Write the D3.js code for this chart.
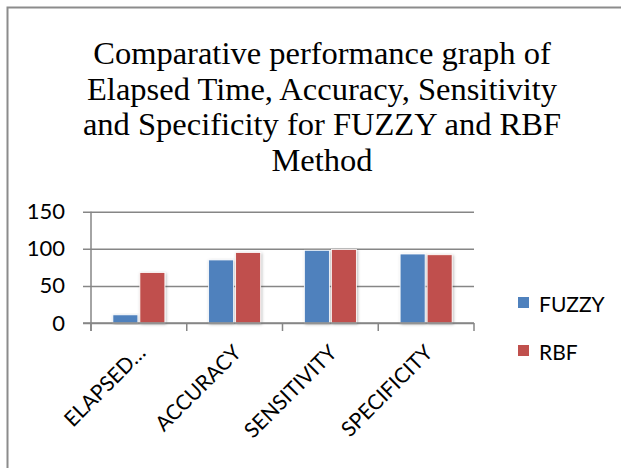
<!DOCTYPE html>
<html>
<head>
<meta charset="utf-8">
<script src="https://cdn.jsdelivr.net/npm/d3@7"></script>
<style>
  html, body { margin: 0; padding: 0; background: #fff; overflow: hidden; }
  svg { display: block; }
</style>
</head>
<body>
<div id="chart"></div>
<script>
const titleLines = [
  'Comparative performance graph of',
  'Elapsed Time, Accuracy, Sensitivity',
  'and Specificity for FUZZY and RBF',
  'Method'
];
const categories = ['ELAPSED…', 'ACCURACY', 'SENSITIVITY', 'SPECIFICITY'];
const seriesNames = ['FUZZY', 'RBF'];
const fuzzyValues = [11, 85, 98, 93];
const rbfValues = [68, 95, 99, 92];
const yTicks = [0, 50, 100, 150];
const colors = ['#4F81BD', '#C0504D'];

const width = 621, height = 468;
const plot = { left: 91, right: 474, top: 211.7, bottom: 323 };

const svg = d3.select('#chart')
  .append('svg')
  .attr('width', width)
  .attr('height', height);

const defs = svg.append('defs');
defs.append('filter')
  .attr('id', 'shadow')
  .attr('x', '-20%').attr('y', '-20%')
  .attr('width', '140%').attr('height', '140%')
  .append('feDropShadow')
  .attr('dx', 1).attr('dy', 1)
  .attr('stdDeviation', 1.6)
  .attr('flood-color', '#000')
  .attr('flood-opacity', 0.28);

// outer frame (only top and left edges fall inside the crop)
svg.append('path')
  .attr('d', `M7.5,${height + 2}V7.5H${width + 2}`)
  .attr('fill', 'none')
  .attr('stroke', '#8c8c8c')
  .attr('stroke-width', 2);

svg.append('g')
  .selectAll('text')
  .data(titleLines)
  .join('text')
  .attr('x', 322)
  .attr('y', (d, i) => 64 + i * 35.7)
  .attr('text-anchor', 'middle')
  .attr('font-family', '"Liberation Serif", serif')
  .attr('font-size', 32.5)
  .attr('fill', '#000')
  .text(d => d);

const x0 = d3.scaleBand().domain(categories).range([plot.left, plot.right]);
const x1 = d3.scaleBand().domain(seriesNames).range([0, x0.bandwidth()])
  .paddingInner(0.074).paddingOuter(0.81);
const y = d3.scaleLinear().domain([0, 150]).range([plot.bottom, plot.top]);

// gridlines + left axis
const yAxis = svg.append('g')
  .attr('transform', `translate(${plot.left},0)`)
  .call(d3.axisLeft(y).tickValues(yTicks).tickSize(8).tickPadding(18));
yAxis.select('.domain').remove();
yAxis.selectAll('.tick line')
  .attr('x1', -8)
  .attr('x2', plot.right - plot.left)
  .attr('stroke', '#868686')
  .attr('stroke-width', 1.5);
yAxis.selectAll('.tick text')
  .attr('font-family', 'Lato, sans-serif')
  .attr('font-size', 22)
  .attr('fill', '#000');

svg.append('line')
  .attr('x1', plot.left).attr('x2', plot.left)
  .attr('y1', plot.top).attr('y2', plot.bottom + 8)
  .attr('stroke', '#868686')
  .attr('stroke-width', 1.5);

// category boundary ticks
svg.append('g')
  .selectAll('line')
  .data(categories.map(c => x0(c)).concat([plot.right]))
  .join('line')
  .attr('x1', d => d)
  .attr('x2', d => d)
  .attr('y1', plot.bottom)
  .attr('y2', plot.bottom + 8)
  .attr('stroke', '#868686')
  .attr('stroke-width', 1.5);

const rows = categories.map((c, i) => ({ cat: c, values: [fuzzyValues[i], rbfValues[i]] }));

svg.append('g')
  .selectAll('g')
  .data(rows)
  .join('g')
  .attr('transform', d => `translate(${x0(d.cat)},0)`)
  .selectAll('rect')
  .data(d => d.values.map((v, k) => ({ name: seriesNames[k], value: v, k })))
  .join('rect')
  .attr('x', d => x1(d.name))
  .attr('y', d => y(d.value))
  .attr('width', x1.bandwidth())
  .attr('height', d => y(0) - y(d.value))
  .attr('fill', d => colors[d.k])
  .attr('stroke', '#ffffff')
  .attr('stroke-width', 0.8)
  .attr('filter', 'url(#shadow)');

// baseline drawn over the bars
svg.append('line')
  .attr('x1', plot.left - 8).attr('x2', plot.right)
  .attr('y1', plot.bottom).attr('y2', plot.bottom)
  .attr('stroke', '#868686')
  .attr('stroke-width', 1.5);

// rotated category labels
svg.append('g')
  .selectAll('text')
  .data(categories)
  .join('text')
  .attr('transform', d => `translate(${x0(d) + x0.bandwidth() / 2 + 8},354) rotate(-45)`)
  .attr('text-anchor', 'end')
  .attr('font-family', 'Lato, sans-serif')
  .attr('font-size', 21)
  .attr('fill', '#000')
  .text(d => d);

// legend
const legend = svg.append('g')
  .selectAll('g')
  .data(seriesNames)
  .join('g')
  .attr('transform', (d, i) => `translate(518,${297 + i * 48})`);
legend.append('rect')
  .attr('width', 11).attr('height', 11)
  .attr('fill', (d, i) => colors[i]);
legend.append('text')
  .attr('x', 21).attr('y', 15)
  .attr('font-family', 'Lato, sans-serif')
  .attr('font-size', 21)
  .attr('fill', '#000')
  .text(d => d);
</script>
</body>
</html>
